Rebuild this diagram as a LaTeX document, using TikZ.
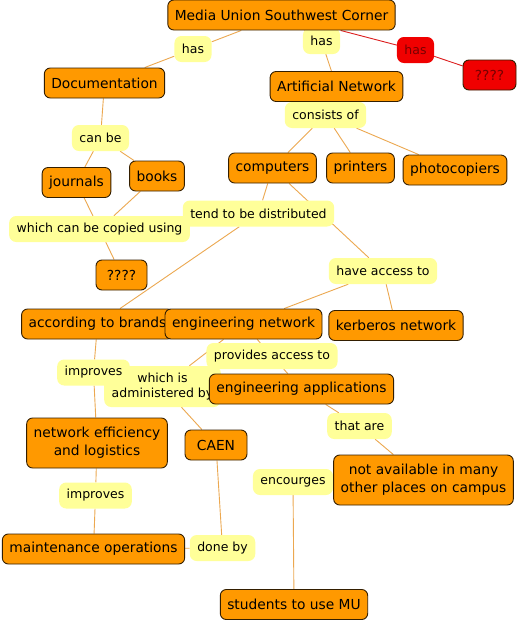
\documentclass[tikz,border=0pt]{standalone}
\usepackage{fontspec}
\setmainfont{DejaVu Sans}
\usepackage{tikz}
\usetikzlibrary{backgrounds}
\definecolor{cmaporange}{RGB}{255,153,0}
\definecolor{cmapyellow}{RGB}{255,255,153}
\definecolor{cmapline}{RGB}{236,168,80}
\definecolor{cmapborder}{RGB}{51,30,0}
\definecolor{cmapred}{RGB}{240,0,0}
\definecolor{cmapdarkred}{RGB}{120,0,0}
\definecolor{cmapredline}{RGB}{220,30,30}

\begin{document}
\begin{tikzpicture}[x=1pt, y=-1pt,
    concept/.style={draw=cmapborder, fill=cmaporange, line width=0.9pt, rounded corners=6pt, inner xsep=7pt, inner ysep=3pt, minimum height=30pt, align=center, font=\fontsize{13.8}{18}\selectfont},
    link/.style={fill=cmapyellow, rounded corners=7pt, inner xsep=7.5pt, inner ysep=3pt, minimum height=26pt, align=center, font=\fontsize{12.5}{15}\selectfont},
    edge/.style={draw=cmapline, line width=0.9pt},
    rededge/.style={draw=cmapredline, line width=0.9pt}]
            \useasboundingbox (0, 0) rectangle (521, 621);

            \node[link] (has1) at (193, 49) {has};
            \node[link] (has2) at (321.5, 41) {has};
            \node[link, fill=cmapred, text=cmapdarkred] (has3) at (415.5, 50) {has};
            \node[link] (canbe) at (100.5, 138) {can be};
            \node[link] (consists) at (325.5, 115) {consists of};
            \node[link] (copied) at (99.5, 229) {which can be copied using};
            \node[link] (tend) at (258.5, 213.5) {tend to be distributed};
            \node[link] (access) at (383, 271) {have access to};
            \node[link, minimum height=41pt] (admin) at (162.5, 386.5) {which is\\administered by};
            \node[link] (improves1) at (93.5, 372.5) {improves};
            \node[link] (provides) at (272, 356) {provides access to};
            \node[link] (thatare) at (359.5, 426) {that are};
            \node[link] (improves2) at (95.5, 495.5) {improves};
            \node[link] (doneby) at (222.5, 548) {done by};
            \node[link] (encourges) at (293, 482) {encourges};

            \node[concept] (media) at (281.5, 15) {Media Union Southwest Corner};
            \node[concept] (doc) at (104.5, 83) {Documentation};
            \node[concept] (artnet) at (336.5, 86.5) {Artificial Network};
            \node[concept, fill=cmapred, text=cmapdarkred, minimum width=53pt] (unknownred) at (489.5, 75) {????};
            \node[concept] (journals) at (76.5, 182.5) {journals};
            \node[concept] (books) at (157, 176) {books};
            \node[concept] (computers) at (272.5, 168) {computers};
            \node[concept] (printers) at (360.5, 168) {printers};
            \node[concept] (copiers) at (455, 170) {photocopiers};
            \node[concept, minimum width=51pt] (unknown) at (121.5, 275) {????};
            \node[concept] (brands) at (97.5, 324) {according to brands};
            \node[concept] (engnet) at (243.5, 324) {engineering network};
            \node[concept] (kerberos) at (396, 325.5) {kerberos network};
            \node[concept] (engapps) at (301.5, 389) {engineering applications};
            \node[concept, minimum height=50pt] (effic) at (97, 443) {network efficiency\\and logistics};
            \node[concept, minimum width=62pt] (caen) at (216, 445) {CAEN};
            \node[concept] (maint) at (93.5, 549) {maintenance operations};
            \node[concept, minimum height=50pt] (notavail) at (423.5, 480) {not available in many\\other places on campus};
            \node[concept] (students) at (294, 604.5) {students to use MU};

            \begin{scope}[on background layer]
            \fill[white] (0, 0) rectangle (521, 621);
            \draw[edge] (media) -- (has1) -- (doc);
            \draw[edge] (media) -- (has2) -- (artnet);
            \draw[rededge] (media) -- (has3) -- (unknownred);
            \draw[edge] (doc) -- (canbe) -- (journals);
            \draw[edge] (canbe) -- (books);
            \draw[edge] (journals) -- (copied) -- (unknown);
            \draw[edge] (books) -- (copied);
            \draw[edge] (artnet) -- (consists) -- (computers);
            \draw[edge] (consists) -- (printers);
            \draw[edge] (consists) -- (copiers);
            \draw[edge] (computers) -- (tend) -- (brands);
            \draw[edge] (computers) -- (access) -- (engnet);
            \draw[edge] (access) -- (kerberos);
            \draw[edge] (brands) -- (improves1) -- (effic);
            \draw[edge] (effic) -- (improves2) -- (maint);
            \draw[edge] (maint) -- (doneby) -- (caen);
            \draw[edge] (engnet) -- (admin) -- (caen);
            \draw[edge] (engnet) -- (provides) -- (engapps);
            \draw[edge] (engapps) -- (thatare) -- (notavail);
            \draw[edge] (notavail) -- (encourges) -- (students);
            \end{scope}
        \end{tikzpicture}
\end{document}
